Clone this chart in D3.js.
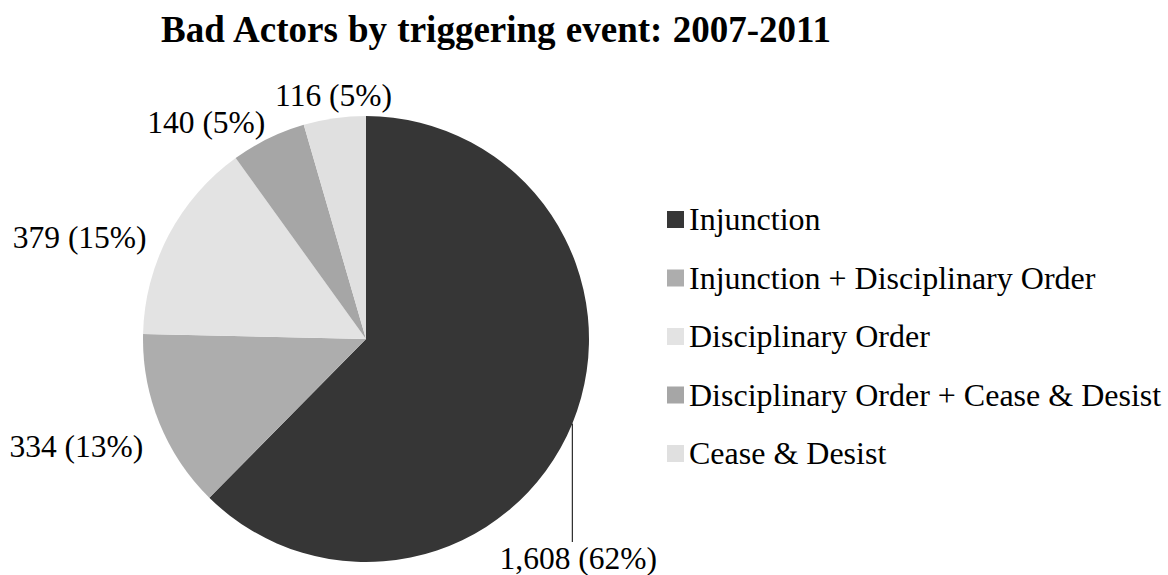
<!DOCTYPE html>
<html>
<head>
<meta charset="utf-8">
<script src="https://cdn.jsdelivr.net/npm/d3@7"></script>
<style>
  html, body { margin: 0; padding: 0; background: #fff; }
  svg { display: block; }
  text { font-family: "Liberation Serif", "Times New Roman", serif; fill: #000; }
</style>
</head>
<body>
<script>
// ---- data ----
const categories = ["Injunction", "Injunction + Disciplinary Order", "Disciplinary Order",
                    "Disciplinary Order + Cease & Desist", "Cease & Desist"];
const values = [1608, 334, 379, 140, 116];
const valueLabels = ["1,608 (62%)", "334 (13%)", "379 (15%)", "140 (5%)", "116 (5%)"];
const colors = ["#363636", "#adadad", "#e3e3e3", "#a6a6a6", "#e0e0e0"];
const title = "Bad Actors by triggering event: 2007-2011";

// ---- layout ----
const W = 1168, H = 575;
const cx = 366, cy = 339, R = 223;
// label offsets (dx, dy-baseline) from each slice's outer mid-point
const labelOffsets = [[6, 145], [-83, 34], [-89, 13], [-62, -5.5], [-1, -12]];
const leaderEnd = 542;

const svg = d3.select("body").append("svg").attr("width", W).attr("height", H);

svg.append("text")
  .attr("x", 496).attr("y", 42)
  .attr("text-anchor", "middle")
  .style("font-weight", "bold")
  .style("font-size", "37px")
  .style("word-spacing", "1px")
  .text(title);

const data = categories.map((c, i) => ({ cat: c, value: values[i], label: valueLabels[i], color: colors[i] }));

const pie = d3.pie().value(d => d.value).sort(null);
const arcs = pie(data);
const arc = d3.arc().innerRadius(0).outerRadius(R);

const g = svg.append("g").attr("transform", `translate(${cx},${cy})`);
g.selectAll("path.slice").data(arcs).join("path")
  .attr("class", "slice")
  .attr("d", arc)
  .attr("fill", d => d.data.color);

function edgePoint(d) {
  const a = (d.startAngle + d.endAngle) / 2;
  return [R * Math.sin(a), -R * Math.cos(a)];
}

// leader line for first slice
const p0 = edgePoint(arcs[0]);
g.append("line")
  .attr("x1", p0[0]).attr("y1", p0[1])
  .attr("x2", p0[0]).attr("y2", leaderEnd - cy)
  .attr("stroke", "#000").attr("stroke-width", 1);

g.selectAll("text.lbl").data(arcs).join("text")
  .attr("class", "lbl")
  .attr("x", (d, i) => edgePoint(d)[0] + labelOffsets[i][0])
  .attr("y", (d, i) => edgePoint(d)[1] + labelOffsets[i][1])
  .attr("text-anchor", "middle")
  .style("font-size", "31.5px")
  .text(d => d.data.label);

// ---- legend ----
const ly = d3.scalePoint().domain(categories).range([211, 445]);
const leg = svg.append("g");
const items = leg.selectAll("g").data(data).join("g")
  .attr("transform", d => `translate(667,${ly(d.cat)})`);
items.append("rect").attr("width", 17).attr("height", 17).attr("fill", d => d.color);
items.append("text").attr("x", 22).attr("y", 19)
  .style("font-size", "32px")
  .text(d => d.cat);
</script>
</body>
</html>
